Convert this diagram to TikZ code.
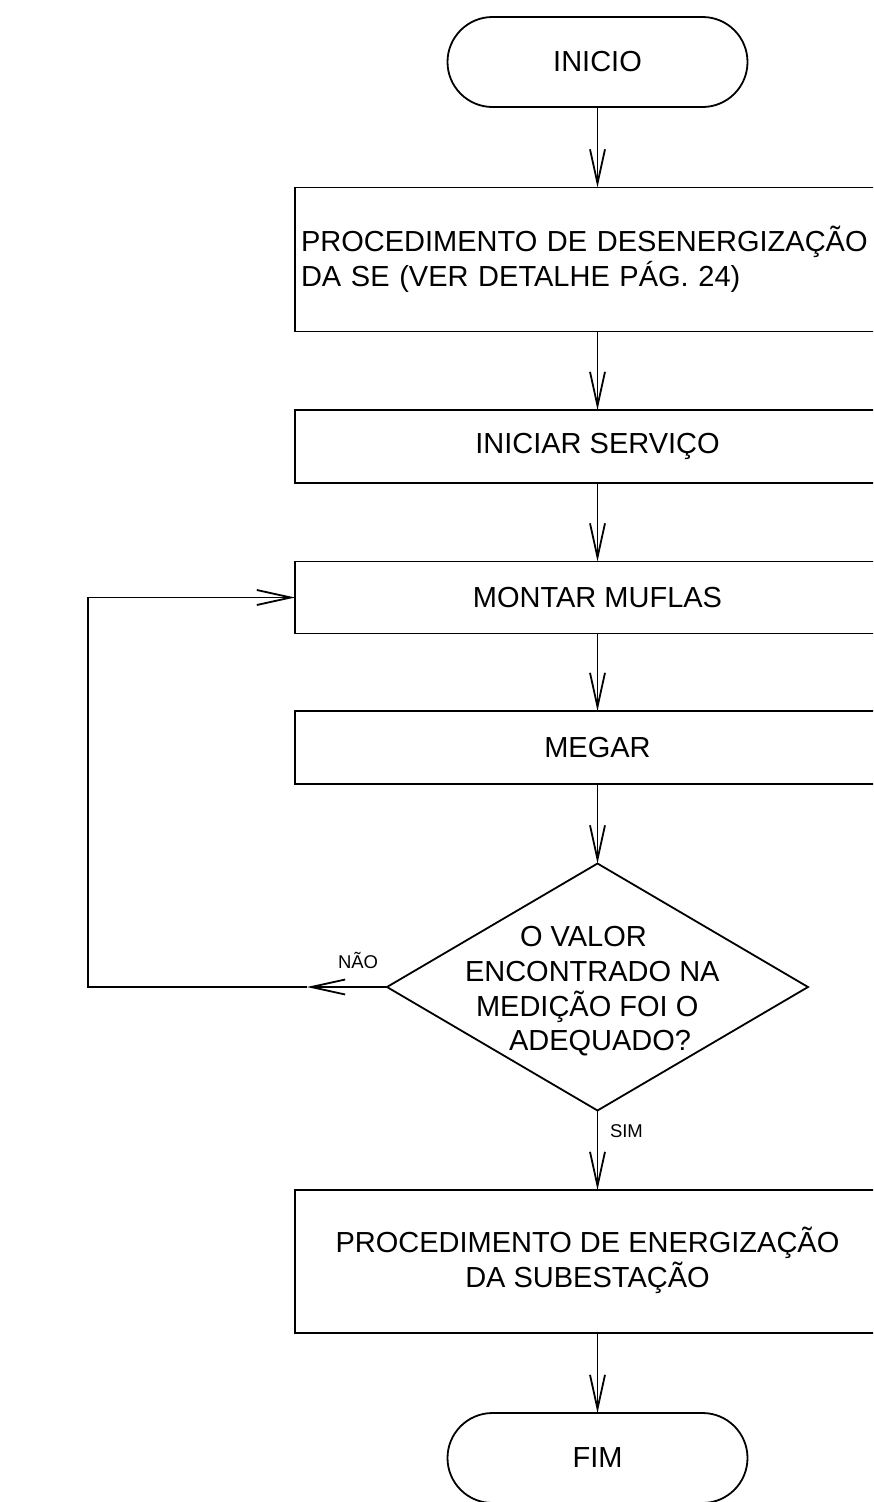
\documentclass[tikz,border=0pt]{standalone}
\usepackage{fontspec}
\setmainfont{Liberation Sans}
\usetikzlibrary{arrows.meta,shapes.geometric}
\begin{document}
\begin{tikzpicture}[x=1pt,y=-1pt,
  every node/.style={outer sep=0pt},
  big/.style={font=\fontsize{29}{35}\selectfont},
  small/.style={font=\fontsize{18.5}{22}\selectfont, inner sep=0pt},
  box/.style={draw, line width=1.8pt, rectangle, minimum width=605pt, inner xsep=6pt, big},
  term/.style={draw, line width=1.8pt, rectangle, rounded corners=45pt, minimum width=300pt, minimum height=90pt, big},
  txt/.style={inner sep=0pt, big},
  arr/.style={line width=1.8pt, -{Straight Barb[length=34pt,width=15pt]}}]
\clip (0,0) rectangle (873,1502);
% nodes
\node[term] (ini) at (597.5,62) {INICIO};
\node[box, minimum height=144pt, text width=593pt, align=left] (b1) at (597.5,259.5)
  {PROCEDIMENTO DE DESENERGIZAÇÃO\\DA SE (VER DETALHE PÁG. 24)};
\node[box, minimum height=73pt] (b2) at (597.5,446.5) {INICIAR SERVIÇO};
\node[box, minimum height=72pt] (b3) at (597.5,597.5) {MONTAR MUFLAS};
\node[box, minimum height=73pt] (b4) at (597.5,747.5) {MEGAR};
\node[draw, line width=1.8pt, diamond, minimum width=421pt, minimum height=247pt, inner sep=0pt] (d) at (597.5,987) {};
\node[txt, anchor=base west] (q1) at (520,946) {O VALOR};
\node[txt, anchor=base west] (q2) at (465,981) {ENCONTRADO NA};
\node[txt, anchor=base west] (q3) at (476,1016) {MEDIÇÃO FOI O};
\node[txt, anchor=base west] (q4) at (509,1050) {ADEQUADO?};
\node[box, minimum height=143pt] (b5) at (597.5,1261.5) {};
\node[txt, anchor=base] (t5a) at (587.5,1252) {PROCEDIMENTO DE ENERGIZAÇÃO};
\node[txt, anchor=base] (t5b) at (587.5,1287) {DA SUBESTAÇÃO};
\node[term] (fim) at (597.5,1458) {FIM};
\node[small, anchor=base west] (nao) at (338,968) {NÃO};
\node[small, anchor=base west] (sim) at (610,1137) {SIM};
\coordinate (nt) at (307,987);
\coordinate (lc) at (88,987);
% connectors
\draw[arr] (ini) -- (b1);
\draw[arr] (b1) -- (b2);
\draw[arr] (b2) -- (b3);
\draw[arr] (b3) -- (b4);
\draw[arr] (b4) -- (d.north);
\draw[arr] (d.south) -- (b5);
\draw[arr] (b5) -- (fim);
\draw[arr] (d.west) -- (nt);
\draw[arr] (nt) -- (lc) |- (b3.west);
\end{tikzpicture}
\end{document}
